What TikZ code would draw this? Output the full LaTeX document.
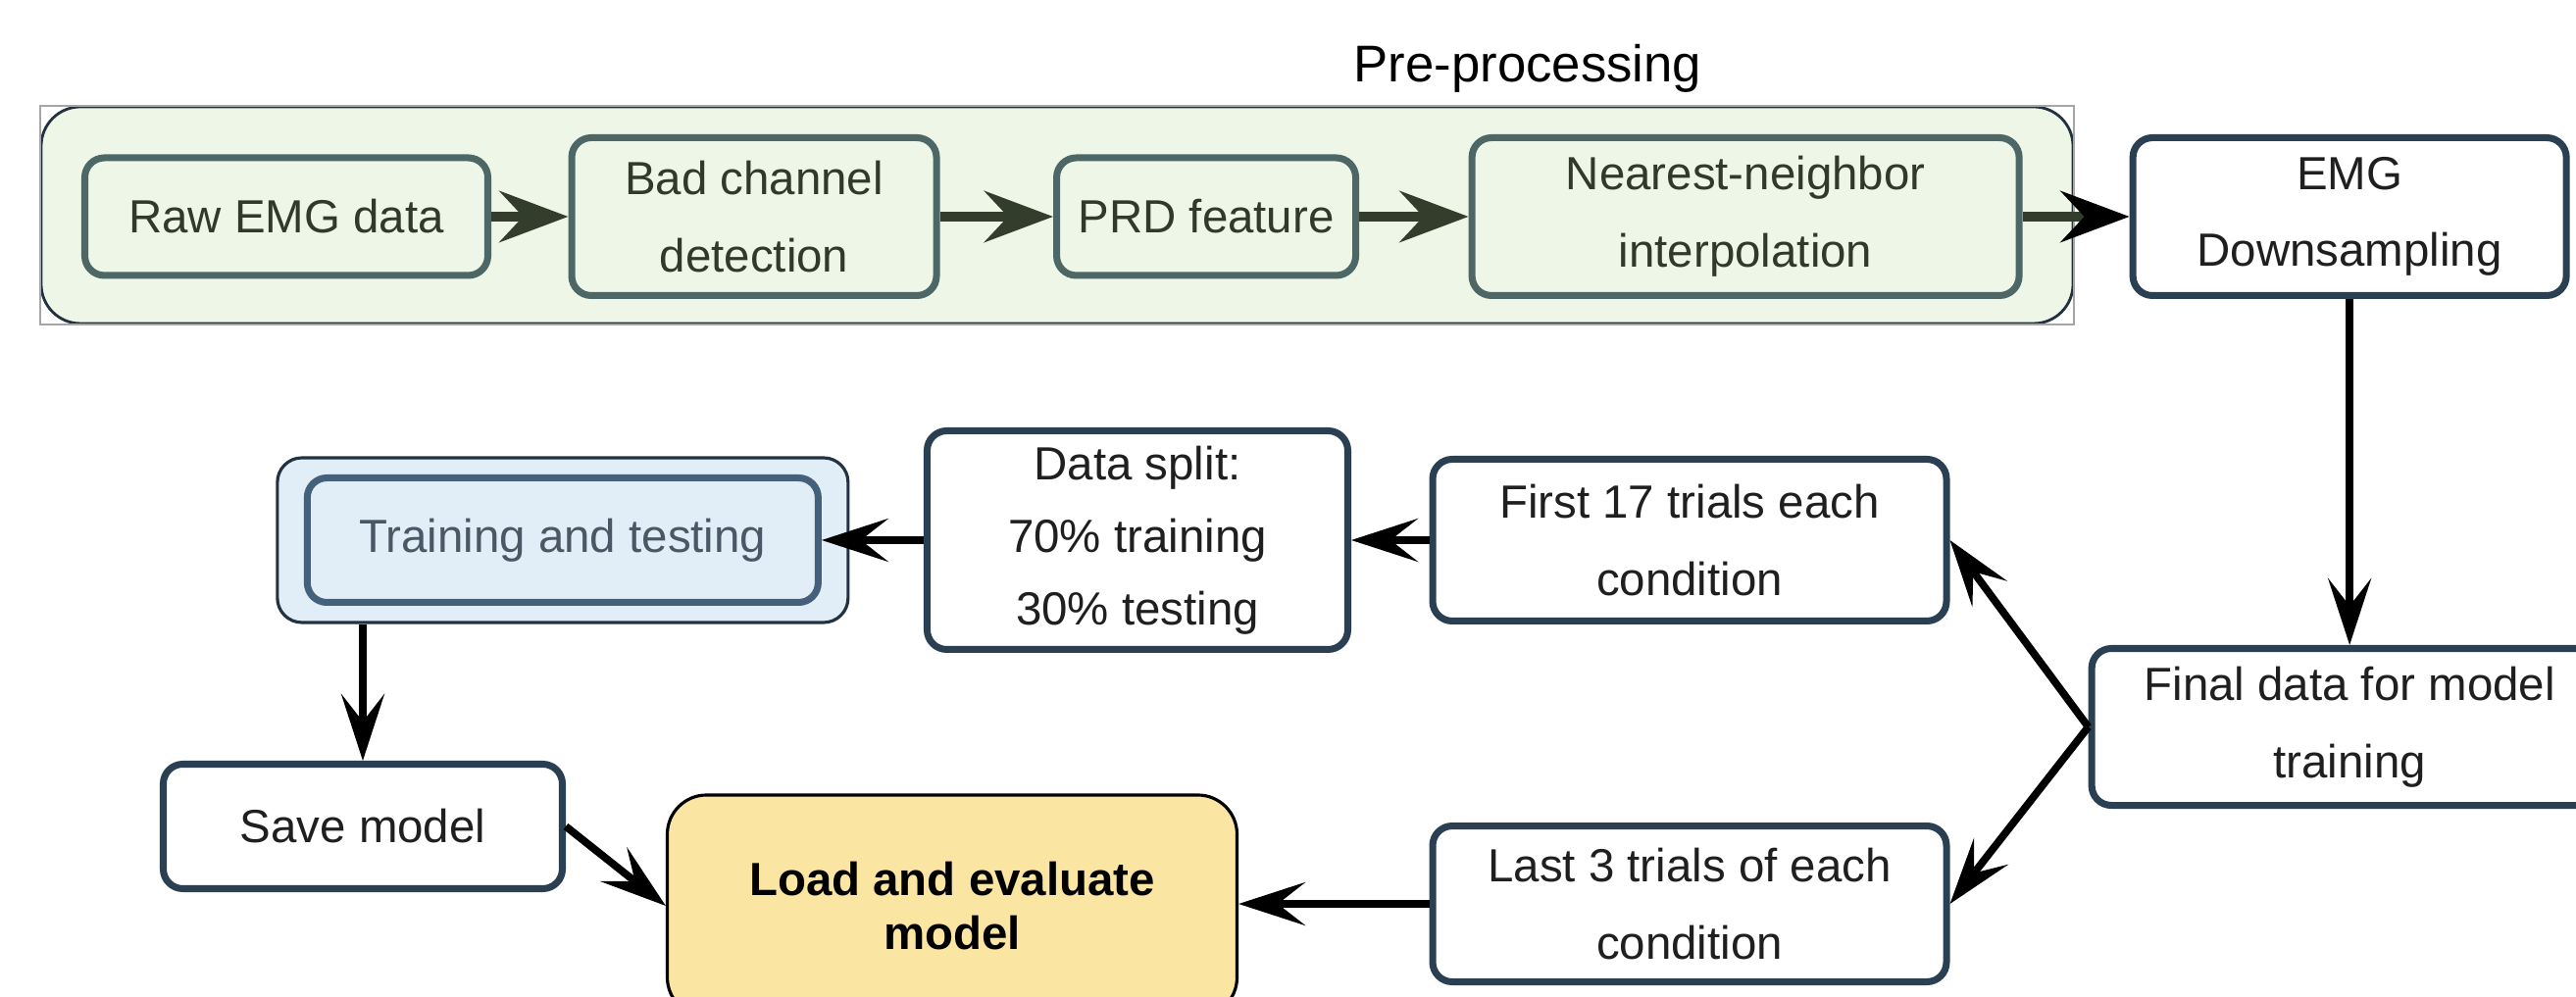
\documentclass[tikz,border=0pt]{standalone}
\usepackage{fontspec}
\setmainfont{Liberation Sans}
\usetikzlibrary{positioning}
\usetikzlibrary{arrows.meta}
\definecolor{prefill}{HTML}{EEF6E8}
\definecolor{preline}{HTML}{4D6767}
\definecolor{pretext}{HTML}{2F3A29}
\definecolor{prearrowcol}{HTML}{333D2B}
\definecolor{flowline}{HTML}{2B3F53}
\definecolor{trainfill}{HTML}{E1EEF8}
\definecolor{trainline}{HTML}{45607A}
\definecolor{traintext}{HTML}{4A5865}
\definecolor{loadfill}{HTML}{FBE5A2}
\tikzset{%
  group/.style = {rectangle,rounded corners=4mm,draw=flowline!80!black,
        line width=0.8pt,fill=prefill},
  prebox/.style = {rectangle,rounded corners=2mm,draw=preline,line width=2pt,
        fill=prefill,text=pretext,align=center,
        font=\fontsize{13.5}{22.4}\selectfont},
  flowbox/.style = {rectangle,rounded corners=2mm,draw=flowline,line width=2pt,
        fill=white,text=black!88,align=center,
        font=\fontsize{13.5}{22.4}\selectfont},
  prearrow/.style = {-{Stealth[length=7mm,width=5.2mm,inset=2.4mm]},
        line width=3.1pt,draw=prearrowcol},
  flowarrow/.style = {-{Stealth[length=6.8mm,width=4.4mm,inset=2.8mm]},
        line width=2.2pt}
}
\begin{document}
\begin{tikzpicture}
   \clip (0,0) rectangle (26.27,10.17);
   % pre-processing group
   \node[group,minimum width=20.72cm,minimum height=2.21cm] (pre) at (10.78,7.975) {};
   \draw[gray!70,line width=0.6pt] (pre.south west) rectangle (pre.north east);
   \node[font=\fontsize{15}{18}\selectfont] (title) at (15.58,9.47) {Pre-processing};

   \node[prebox,minimum width=4.11cm,minimum height=1.2cm] (raw) at (2.92,7.96) {Raw EMG data};
   \node[prebox,minimum width=3.72cm,minimum height=1.61cm] (bad) [right=0.785cm of raw] {Bad channel\\detection};
   \node[prebox,minimum width=3.05cm,minimum height=1.2cm] (prd) [right=1.155cm of bad] {PRD feature};
   \node[prebox,minimum width=5.58cm,minimum height=1.61cm] (near) [right=1.115cm of prd] {Nearest-neighbor\\interpolation};
   \node[flowbox,minimum width=4.42cm,minimum height=1.61cm] (emg) [right=1.09cm of near] {EMG\\Downsampling};

   % model data flow
   \node[flowbox,minimum width=5.26cm,minimum height=1.6cm] (final) [below=3.53cm of emg] {Final data for model\\training};
   \node[flowbox,minimum width=5.24cm,minimum height=1.65cm] (first) at (17.23,4.66) {First 17 trials each\\condition};
   \node[flowbox,minimum width=4.29cm,minimum height=2.23cm,
         font=\fontsize{13.5}{21}\selectfont] (split) [left=0.795cm of first] {Data split:\\70\% training\\30\% testing};
   \node[rectangle,rounded corners=2.5mm,draw=flowline!80!black,line width=0.9pt,fill=trainfill,
         minimum width=5.82cm,minimum height=1.68cm] (train) [left=0.755cm of split] {};
   \node[rectangle,rounded corners=2mm,draw=trainline,line width=2pt,fill=trainfill,text=traintext,
         minimum width=5.21cm,minimum height=1.27cm,font=\fontsize{13.5}{16}\selectfont] (inner) at (train.center) {Training and testing};
   \node[flowbox,minimum width=5.24cm,minimum height=1.59cm] (last) [below=2.02cm of first] {Last 3 trials of each\\condition};
   \node[flowbox,minimum width=4.07cm,minimum height=1.27cm] (save) at (3.70,1.74) {Save model};
   \node[rectangle,rounded corners=4mm,draw=black,line width=0.9pt,fill=loadfill,align=center,
         minimum width=5.81cm,minimum height=2.26cm,font=\fontsize{13.5}{15.6}\selectfont\bfseries] (load) at (9.71,0.93) {Load and evaluate\\model};

   \draw[prearrow] (raw) -- (bad);
   \draw[prearrow] (bad) -- (prd);
   \draw[prearrow] (prd) -- (near);
   \draw[prearrow,-{Stealth[length=7mm,width=5.2mm,inset=2.4mm,black]}] (near) -- (emg);

   \draw[flowarrow] (emg) -- (final);
   \draw[flowarrow] (final.west) -- (first.east);
   \draw[flowarrow] (final.west) -- (last.east);
   \draw[flowarrow] (first.west) -- (first.west -| split.east);
   \draw[flowarrow] (split.west) -- (split.west -| inner.east);
   \draw[flowarrow] (train.south -| save.north) -- (save);
   \draw[flowarrow] (save.east) -- (load.west);
   \draw[flowarrow] (last.west) -- (last.west -| load.east);
\end{tikzpicture}
\end{document}
